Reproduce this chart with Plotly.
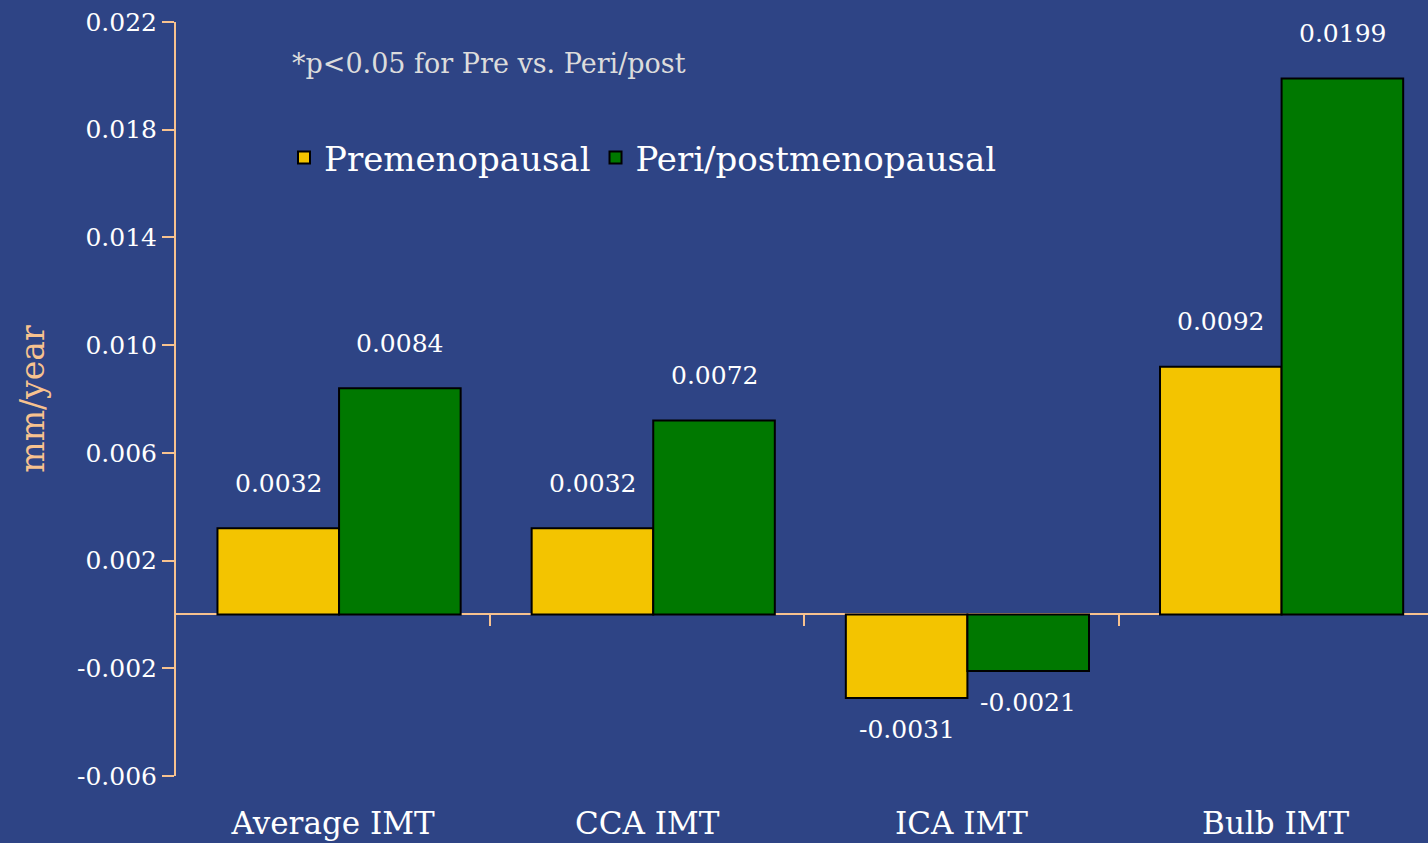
import plotly.graph_objects as go

categories = ["Average IMT", "CCA IMT", "ICA IMT", "Bulb IMT"]
series_names = ["Premenopausal", "Peri/postmenopausal"]
pre_values = [0.0032, 0.0032, -0.0031, 0.0092]
peri_values = [0.0084, 0.0072, -0.0021, 0.0199]
y_tick_values = [-0.006, -0.002, 0.002, 0.006, 0.010, 0.014, 0.018, 0.022]
y_tick_labels = ["-0.006", "-0.002", "0.002", "0.006", "0.010", "0.014", "0.018", "0.022"]
y_range = [-0.006, 0.022]
note_text = "*p<0.05 for Pre vs. Peri/post"
y_title = "mm/year"

FONT = "DejaVu Serif"
BG = "#2e4485"
PEACH = "#f7c28f"
YELLOW = "#f3c400"
GREEN = "#007800"

W, H = 1428, 843
ML, MR, MT, MB = 176, 0, 22, 67
X_RANGE = [-0.5, len(categories) - 0.515]
BAR_W = 0.387
OFFSETS = [-0.368, 0.019]

fig = go.Figure()
for name, vals, col, off in [(series_names[0], pre_values, YELLOW, OFFSETS[0]),
                             (series_names[1], peri_values, GREEN, OFFSETS[1])]:
    fig.add_trace(go.Bar(
        x=categories, y=vals, name=name, width=BAR_W, offset=off,
        marker=dict(color=col, line=dict(color="black", width=2)),
        hoverinfo="x+y",
    ))

# helper trace so the overlay axis (category boundary ticks on the zero line) is drawn
fig.add_trace(go.Scatter(x=[None], y=[None], xaxis="x2", yaxis="y",
                         showlegend=False, hoverinfo="skip", mode="markers"))

plot_w = W - ML - MR
plot_h = H - MT - MB
slot_px = plot_w / (X_RANGE[1] - X_RANGE[0])
for off, vals in zip(OFFSETS, [pre_values, peri_values]):
    shift = (off + BAR_W / 2) * slot_px
    for cat, v in zip(categories, vals):
        fig.add_annotation(
            x=cat, y=v, xref="x", yref="y", xshift=shift,
            yshift=45 if v >= 0 else -32,
            text=f"{v:.4f}", showarrow=False,
            font=dict(family=FONT, size=25, color="white"),
            xanchor="center", yanchor="middle",
        )

zero_pos = (0 - y_range[0]) / (y_range[1] - y_range[0])

fig.add_annotation(
    x=(290 - ML) / plot_w, y=(H - MB - 63) / plot_h, xref="paper", yref="paper",
    text=note_text, showarrow=False, xanchor="left", yanchor="middle",
    font=dict(family=FONT, size=27, color="#dcdcdc"),
)

fig.update_layout(
    width=W, height=H,
    margin=dict(l=ML, r=MR, t=MT, b=MB, pad=0),
    paper_bgcolor=BG, plot_bgcolor=BG,
    barmode="group", bargap=0.224, bargroupgap=0,
    font=dict(family=FONT, color="white"),
    showlegend=True,
    legend=dict(
        orientation="h", x=(284 - ML) / plot_w, y=(H - MB - 158) / plot_h,
        xanchor="left", yanchor="middle",
        font=dict(family=FONT, size=34, color="white"),
        bgcolor="rgba(0,0,0,0)", itemwidth=30,
    ),
    xaxis=dict(
        type="category", range=X_RANGE, showgrid=False, zeroline=False, showline=False,
        ticks="", ticklabelstandoff=26,
        tickfont=dict(family=FONT, size=31, color="white"),
    ),
    xaxis2=dict(
        overlaying="x", anchor="free", position=zero_pos, range=X_RANGE,
        tickvals=[i + 0.5 for i in range(len(categories) - 1)],
        ticks="outside", ticklen=11, tickwidth=2, tickcolor=PEACH,
        showticklabels=False, showgrid=False, zeroline=False, showline=False,
    ),
    yaxis=dict(
        range=y_range, tickvals=y_tick_values, ticktext=y_tick_labels,
        showgrid=False, zeroline=True, zerolinecolor=PEACH, zerolinewidth=2,
        showline=True, linecolor=PEACH, linewidth=2,
        ticks="outside", ticklen=12, tickwidth=2, tickcolor=PEACH,
        tickfont=dict(family=FONT, size=25, color="white"),
        title=dict(text=y_title, standoff=22, font=dict(family=FONT, size=33, color=PEACH)),
    ),
)

fig.write_html("out.html", config={"displayModeBar": False},
               post_script="document.body.style.margin='0';document.body.style.overflow='hidden';")
